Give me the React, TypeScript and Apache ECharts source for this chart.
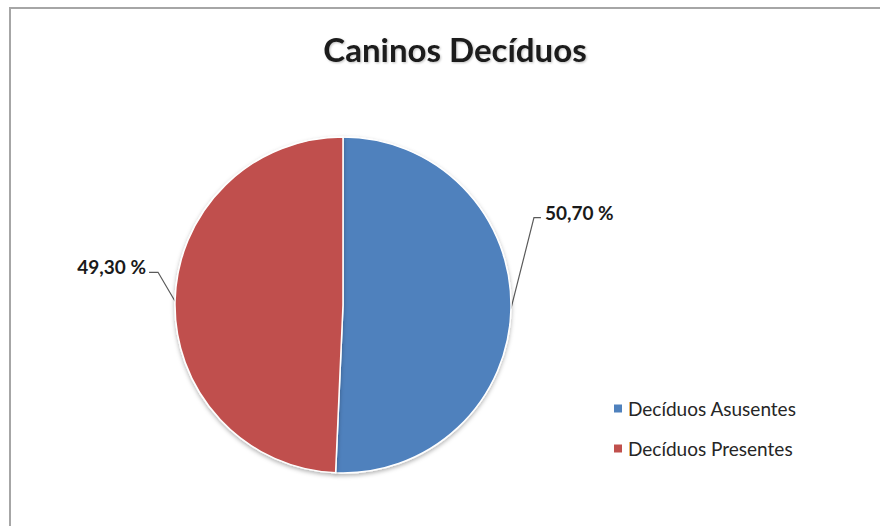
import React, { useEffect, useRef } from "react";
import * as echarts from "echarts";

const titleText = "Caninos Decíduos";
const categories = ["Decíduos Asusentes", "Decíduos Presentes"];
const values = [50.7, 49.3];
const labelTexts = ["50,70 %", "49,30 %"];
const colors = ["#4F81BD", "#C0504D"];

export default function App() {
  const ref = useRef<HTMLDivElement>(null);
  useEffect(() => {
    if (!ref.current) return;
    const chart = echarts.init(ref.current, undefined, { renderer: "svg" });
    const font = "Lato, 'Open Sans', sans-serif";
    chart.setOption({
      animation: false,
      backgroundColor: "#ffffff",
      title: {
        text: titleText,
        left: 450,
        textAlign: "center",
        top: 27,
        textStyle: {
          fontFamily: font,
          fontSize: 33,
          fontWeight: "bold",
          color: "#1a1a1a",
          textShadowColor: "rgba(0,0,0,0.25)",
          textShadowBlur: 2,
          textShadowOffsetX: 1,
          textShadowOffsetY: 1,
        },
      },
      legend: {
        orient: "vertical",
        left: 607,
        top: 394,
        icon: "rect",
        itemWidth: 10,
        itemHeight: 10,
        itemGap: 21,
        textStyle: { fontFamily: font, fontSize: 19, color: "#262626" },
        data: categories,
      },
      graphic: [
        {
          type: "rect",
          shape: { x: 10, y: 8, width: 900, height: 600 },
          style: { fill: "none", stroke: "#A6A6A6", lineWidth: 2 },
          silent: true,
        },
      ],
      series: [
        {
          type: "pie",
          center: [343, 305],
          radius: 168,
          startAngle: 90,
          clockwise: true,
          data: categories.map((name, i) => ({
            name,
            value: values[i],
            itemStyle: { color: colors[i] },
            label: { formatter: labelTexts[i] },
          })),
          itemStyle: {
            borderColor: "#ffffff",
            borderWidth: 1.5,
            shadowColor: "rgba(0,0,0,0.3)",
            shadowBlur: 4,
            shadowOffsetY: 2,
          },
          label: {
            show: true,
            position: "outside",
            fontFamily: font,
            fontSize: 19,
            fontWeight: "bold",
            color: "#1a1a1a",
          },
          labelLine: {
            show: true,
            length: 20,
            length2: 10,
            lineStyle: { color: "#5a5a5a", width: 1.2 },
          },
          labelLayout: (params: any) => {
            const p0 = params.labelLinePoints ? params.labelLinePoints[0] : [0, 0];
            if (params.dataIndex === 0) {
              const kink = [p0[0] + 23, p0[1] - 91];
              const end = [kink[0] + 7, kink[1]];
              return {
                x: end[0] + 4,
                y: end[1] - 5,
                align: "left",
                verticalAlign: "middle",
                labelLinePoints: [p0, kink, end],
              };
            }
            const kink = [p0[0] - 17, p0[1] - 29];
            const end = [kink[0] - 9, kink[1]];
            return {
              x: end[0] - 3,
              y: end[1] - 6,
              align: "right",
              verticalAlign: "middle",
              labelLinePoints: [p0, kink, end],
            };
          },
        },
      ],
    });
    return () => chart.dispose();
  }, []);
  return (
    <div
      ref={ref}
      style={{ position: "fixed", left: 0, top: 0, width: 880, height: 526 }}
    />
  );
}
